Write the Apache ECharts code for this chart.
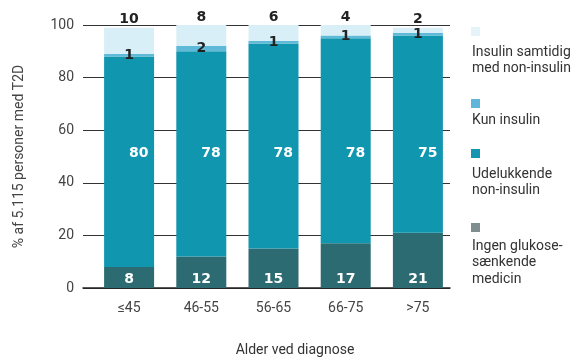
<!DOCTYPE html>
<html>
<head>
<meta charset="utf-8">
<script src="https://cdn.jsdelivr.net/npm/echarts@6/dist/echarts.min.js"></script>
<style>
  html, body { margin: 0; padding: 0; background: #fff; }
  #chart { width: 580px; height: 358px; }
</style>
</head>
<body>
<div id="chart"></div>
<script>
// Age groups at diagnosis
const categories = ['≤45', '46-55', '56-65', '66-75', '>75'];

// Share (%) of 5.115 people with T2D per treatment group
const ingenMedicin = [8, 12, 15, 17, 21];
const udelukkendeNonInsulin = [80, 78, 78, 78, 75];
const kunInsulin = [1, 2, 1, 1, 1];
const insulinSamtidig = [10, 8, 6, 4, 2];

const yTicks = [0, 20, 40, 60, 80, 100];

const seriesNames = [
  'Ingen glukose-\nsænkende\nmedicin',
  'Udelukkende\nnon-insulin',
  'Kun insulin',
  'Insulin samtidig\nmed non-insulin'
];
const colors = ['#2d6b72', '#1196af', '#5fb9d8', '#d9eff7'];
const legendColors = ['#7f8d91', '#1496b0', '#5fb6da', '#e6f3f9'];

const FONT = 'Roboto, "DejaVu Sans", sans-serif';
const LABEL_FONT = '"DejaVu Sans", sans-serif';

// Grid 0 carries the gridlines and value labels; grid 1 holds the bars,
// whose category band sits a little to the right of the gridlines' start.
const lineGrid = { left: 83, top: 25, width: 367, height: 263, outerBoundsMode: 'none' };
const barGrid = { left: 93, top: 25, width: 361, height: 263, outerBoundsMode: 'none' };

const chart = echarts.init(document.getElementById('chart'), null, { renderer: 'canvas' });

function barLabel(color, position, distance) {
  return {
    show: true,
    position: position,
    distance: distance,
    color: color,
    fontFamily: LABEL_FONT,
    fontWeight: 'bold',
    fontSize: 14
  };
}

// Legend: swatch above the text, stacked top to bottom
const legendItems = [
  { idx: 3, sq: 27, ty: 44 },
  { idx: 2, sq: 99, ty: 112 },
  { idx: 1, sq: 149, ty: 166 },
  { idx: 0, sq: 223, ty: 238 }
];
const legendGraphics = [];
legendItems.forEach(function (it) {
  legendGraphics.push({
    type: 'rect', left: 471, top: it.sq,
    shape: { width: 9, height: 9 },
    style: { fill: legendColors[it.idx] }
  });
  legendGraphics.push({
    type: 'text', left: 472, top: it.ty,
    style: {
      text: seriesNames[it.idx], fill: '#333',
      font: '14px ' + FONT, lineHeight: 16.5
    }
  });
});

// The middle-segment values share one baseline across all bars
const midLabelY = barGrid.top + barGrid.height * (1 - 54 / 100);

function barSeries(i, data, label) {
  return {
    name: seriesNames[i], type: 'bar', stack: 'total', barWidth: 50,
    xAxisIndex: 1, yAxisIndex: 1,
    data: data, itemStyle: { color: colors[i] },
    label: label
  };
}

const middle = barSeries(1, udelukkendeNonInsulin, barLabel('#fff', 'inside', 0));
middle.labelLayout = function () { return { y: midLabelY }; };

chart.setOption({
  animation: false,
  backgroundColor: '#ffffff',
  grid: [lineGrid, barGrid],
  xAxis: [
    {
      gridIndex: 0, type: 'value', min: 0, max: 1,
      axisLine: { show: true, onZero: false, lineStyle: { color: '#222', width: 1.5 } },
      axisTick: { show: false }, axisLabel: { show: false }, splitLine: { show: false }
    },
    {
      gridIndex: 1, type: 'category', data: categories,
      axisTick: { show: false },
      axisLine: { show: false },
      axisLabel: { color: '#444', fontSize: 14, fontFamily: FONT, margin: 13 },
      name: 'Alder ved diagnose',
      nameLocation: 'middle',
      nameGap: 55,
      nameTextStyle: { color: '#333', fontSize: 14, fontFamily: FONT, padding: [0, 0, 0, 43] }
    }
  ],
  yAxis: [
    {
      gridIndex: 0, type: 'value',
      min: yTicks[0], max: yTicks[yTicks.length - 1], interval: yTicks[1] - yTicks[0],
      axisLine: { show: false },
      axisTick: { show: false },
      splitLine: { lineStyle: { color: '#333', width: 1 } },
      axisLabel: { color: '#444', fontSize: 14, fontFamily: FONT, margin: 9 },
      name: '% af 5.115 personer med T2D',
      nameLocation: 'middle',
      nameGap: 57,
      nameTextStyle: { color: '#444', fontSize: 14, fontFamily: FONT }
    },
    {
      gridIndex: 1, type: 'value',
      min: yTicks[0], max: yTicks[yTicks.length - 1],
      show: false
    }
  ],
  graphic: legendGraphics,
  series: [
    barSeries(0, ingenMedicin, barLabel('#fff', 'insideBottom', 2)),
    middle,
    barSeries(2, kunInsulin, barLabel('#222', 'inside', 0)),
    barSeries(3, insulinSamtidig, barLabel('#222', 'top', 1))
  ]
});
</script>
</body>
</html>
